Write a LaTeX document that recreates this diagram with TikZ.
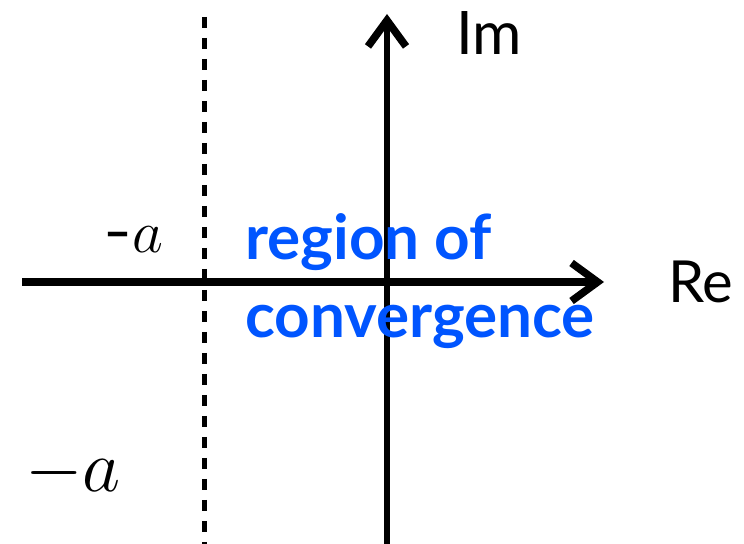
\RequirePackage{fix-cm}
\documentclass[tikz,border=0pt]{standalone}
\usepackage{fontspec}
\setmainfont{Lato}
\usetikzlibrary{arrows.meta}

\definecolor{rocblue}{RGB}{0,85,255}

\tikzset{
  axis/.style={line width=3.8pt, -{Straight Barb[length=13pt, width=19pt, line width=3.8pt]}},
  boundary/.style={line width=2.5pt, dash pattern=on 5.5pt off 5pt},
  axislabel/.style={font=\fontsize{30}{32}\selectfont, inner sep=0pt, anchor=base west},
  alabel/.style={inner sep=0pt, anchor=base west},
  roclabel/.style={font=\fontsize{31}{39}\selectfont\bfseries, text=rocblue, inner sep=0pt, anchor=base west}
}

\begin{document}
\begin{tikzpicture}[x=0.5pt, y=-0.5pt]
    \useasboundingbox (0, 0) rectangle (744, 544);

    % axes
    \coordinate (re start) at (22, 282);
    \coordinate (re end) at (604, 282);
    \coordinate (im start) at (387, 544);
    \coordinate (im end) at (387, 14);
    \draw[axis] (re start) -- (re end);
    \draw[axis, line width=3.4pt] (im start) -- (im end);

    % boundary of the region
    \coordinate (bound top) at (204, 17);
    \coordinate (bound bottom) at (204, 544);
    \draw[boundary] (bound top) -- (bound bottom);

    % labels
    \node[axislabel] (im) at (456, 55) {Im};
    \node[axislabel, font=\fontsize{29}{31}\selectfont] (re) at (668, 303) {Re};
    \node[alabel, font=\fontsize{30}{32}\selectfont] (a small) at (103, 253) {\addfontfeature{FakeStretch=1.3}-$a$};
    \node[alabel, font=\fontsize{37}{40}\selectfont] (a big) at (25, 492) {$-a$};
    \node[roclabel, align=left] (roc) at (245, 338) {region of\\convergence};
\end{tikzpicture}
\end{document}
